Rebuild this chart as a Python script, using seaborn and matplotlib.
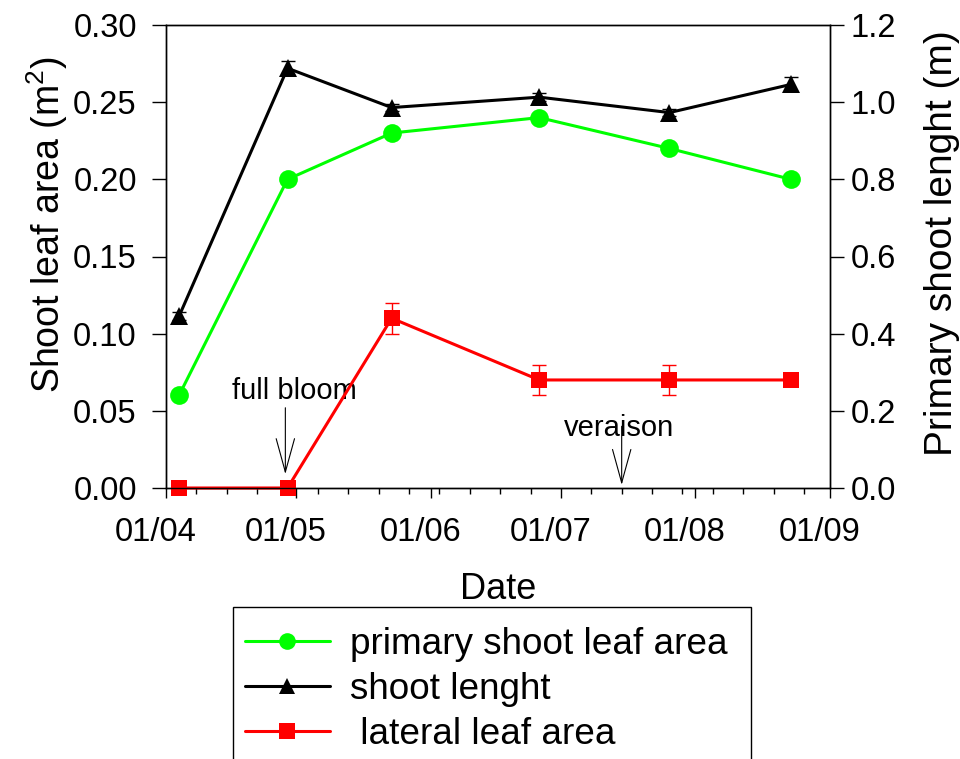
import numpy as np
import pandas as pd
import matplotlib
matplotlib.use("Agg")
import matplotlib.pyplot as plt
import matplotlib.dates as mdates
from matplotlib.transforms import ScaledTranslation
from matplotlib.lines import Line2D
from matplotlib.patches import Rectangle
import seaborn as sns

# ---------------- data ----------------
dates = ["2000-04-04", "2000-04-29", "2000-05-23", "2000-06-26", "2000-07-26", "2000-08-23"]
primary_leaf_area = [0.06, 0.20, 0.23, 0.24, 0.22, 0.20]
primary_leaf_err = [0.0, 0.0, 0.0, 0.0, 0.0, 0.0]
shoot_length = [0.445, 1.088, 0.986, 1.013, 0.973, 1.046]
shoot_length_err = [0.01, 0.018, 0.01, 0.01, 0.01, 0.018]
lateral_leaf_area = [0.0, 0.0, 0.11, 0.07, 0.07, 0.07]
lateral_leaf_err = [0.0, 0.0, 0.01, 0.01, 0.01, 0.0]
series_labels = ["primary shoot leaf area", "shoot lenght", " lateral leaf area"]
full_bloom_date = "2000-04-28 12:00"
veraison_date = "2000-07-15"
x_start, x_end = "2000-04-01", "2000-09-01"
left_ticks = [0.00, 0.05, 0.10, 0.15, 0.20, 0.25, 0.30]
right_ticks = [0.0, 0.2, 0.4, 0.6, 0.8, 1.0, 1.2]

df = pd.DataFrame({
    "date": pd.to_datetime(dates),
    "primary": primary_leaf_area,
    "primary_err": primary_leaf_err,
    "shoot": shoot_length,
    "shoot_err": shoot_length_err,
    "lateral": lateral_leaf_area,
    "lateral_err": lateral_leaf_err,
})

# ---------------- style ----------------
sns.set_theme(style="ticks")
plt.rcParams["font.family"] = ["Liberation Sans", "DejaVu Sans"]
plt.rcParams["mathtext.default"] = "regular"
for k in ("text.color", "axes.labelcolor", "xtick.color", "ytick.color", "axes.edgecolor"):
    plt.rcParams[k] = "black"
FS = 23.5

GREEN = "#00ff00"
RED = "#ff0000"
BLACK = "#000000"
LW = 2.2

fig = plt.figure(figsize=(9.6, 7.59), dpi=100)
W, H = 960, 759
ax = fig.add_axes([166 / W, 1 - 488 / H, (830 - 166) / W, (488 - 25) / H])
ax2 = ax.twinx()

# ---------------- series ----------------
sns.lineplot(data=df, x="date", y="primary", ax=ax, color=GREEN, lw=LW,
             marker="o", markersize=13.5, markeredgewidth=0, zorder=3)
ax.errorbar(df["date"], df["lateral"], yerr=df["lateral_err"], fmt="none",
            ecolor=RED, elinewidth=1, capsize=5, capthick=1, zorder=3)
sns.lineplot(data=df, x="date", y="lateral", ax=ax, color=RED, lw=LW,
             marker="s", markersize=12, markeredgewidth=0, zorder=4, clip_on=False)
ax2.errorbar(df["date"], df["shoot"], yerr=df["shoot_err"], fmt="none",
             ecolor=BLACK, elinewidth=1, capsize=5, capthick=1, zorder=3)
sns.lineplot(data=df, x="date", y="shoot", ax=ax2, color=BLACK, lw=LW,
             marker="^", markersize=13, markeredgewidth=0, zorder=4)

for a in (ax, ax2):
    if a.get_legend() is not None:
        a.get_legend().remove()

# ---------------- axes ----------------
x0, x1 = pd.Timestamp(x_start), pd.Timestamp(x_end)
ax.set_xlim(x0, x1)
ax.set_ylim(0, 0.30)
ax2.set_ylim(0, 1.2)
ax.set_yticks(left_ticks)
ax.set_yticklabels([f"{v:.2f}" for v in left_ticks])
ax2.set_yticks(right_ticks)
ax2.set_yticklabels([f"{v:.1f}" for v in right_ticks])

ax.xaxis.set_major_locator(mdates.MonthLocator())
ax.xaxis.set_major_formatter(mdates.DateFormatter("%d/%m"))
weekly = pd.date_range(x0, x1, freq="7D")
ax.set_xticks(weekly, minor=True)

for a in (ax, ax2):
    for s in a.spines.values():
        s.set_color("black")
        s.set_linewidth(1.0)
        s.set_visible(True)

ax.tick_params(axis="y", which="major", direction="out", length=10, width=1,
               labelsize=FS, pad=11, colors="black")
ax2.tick_params(axis="y", which="major", direction="out", length=10, width=1,
                labelsize=FS, pad=5, colors="black")
ax.tick_params(axis="x", which="major", direction="out", length=7, width=1,
               labelsize=FS, pad=14, colors="black")
ax.tick_params(axis="x", which="minor", direction="out", length=4, width=1)

ax.set_xlabel("Date", fontsize=26, labelpad=17)
ax.set_ylabel("Shoot leaf area (m$^2$)", fontsize=27)
ax.yaxis.set_label_coords((70 - 166) / 664, (488 - 225) / 463)
ax2.set_ylabel("Primary shoot lenght (m)", fontsize=28)
ax2.yaxis.set_label_coords((924 - 166) / 664, (488 - 243) / 463)
ax.grid(False)
ax2.grid(False)

# ---------------- annotations ----------------
arrow = dict(arrowstyle="->,head_length=1.2,head_width=0.33", color="black",
             lw=0.8, shrinkA=0, shrinkB=0, mutation_scale=20)
fb = pd.Timestamp(full_bloom_date)
ve = pd.Timestamp(veraison_date)
ax.annotate("", xy=(fb, 0.009), xytext=(fb, 0.052), arrowprops=arrow)
ax.annotate("", xy=(ve, 0.002), xytext=(ve, 0.040), arrowprops=arrow)
ax.text(fb + pd.Timedelta(days=2), 0.063, "full bloom", fontsize=21,
        ha="center", va="center")
ax.text(ve - pd.Timedelta(days=0.5), 0.039, "veraison", fontsize=21,
        ha="center", va="center")

# ---------------- legend ----------------
handles = [
    Line2D([], [], color=GREEN, lw=LW, marker="o", markersize=12, markeredgewidth=0),
    Line2D([], [], color=BLACK, lw=LW, marker="^", markersize=12, markeredgewidth=0),
    Line2D([], [], color=RED, lw=LW, marker="s", markersize=11, markeredgewidth=0),
]
fig.legend(handles, series_labels, loc="upper left",
           bbox_to_anchor=(245 / W, 1 - 627 / H), frameon=False, fontsize=26.6,
           handlelength=2.3, handletextpad=0.55, labelspacing=0.27,
           borderpad=0, borderaxespad=0)
fig.patches.append(Rectangle((233 / W, 1 - 800 / H), (751 - 233) / W, (800 - 607) / H,
                             transform=fig.transFigure, fill=False,
                             edgecolor="black", lw=1.0))

# offset the date labels slightly left as in the reference
fig.canvas.draw()
off = ScaledTranslation(-10.5 / 100, 0, fig.dpi_scale_trans)
for t in ax.xaxis.get_major_ticks():
    t.label1.set_transform(t.label1.get_transform() + off)

fig.savefig("out.png", dpi=100)
